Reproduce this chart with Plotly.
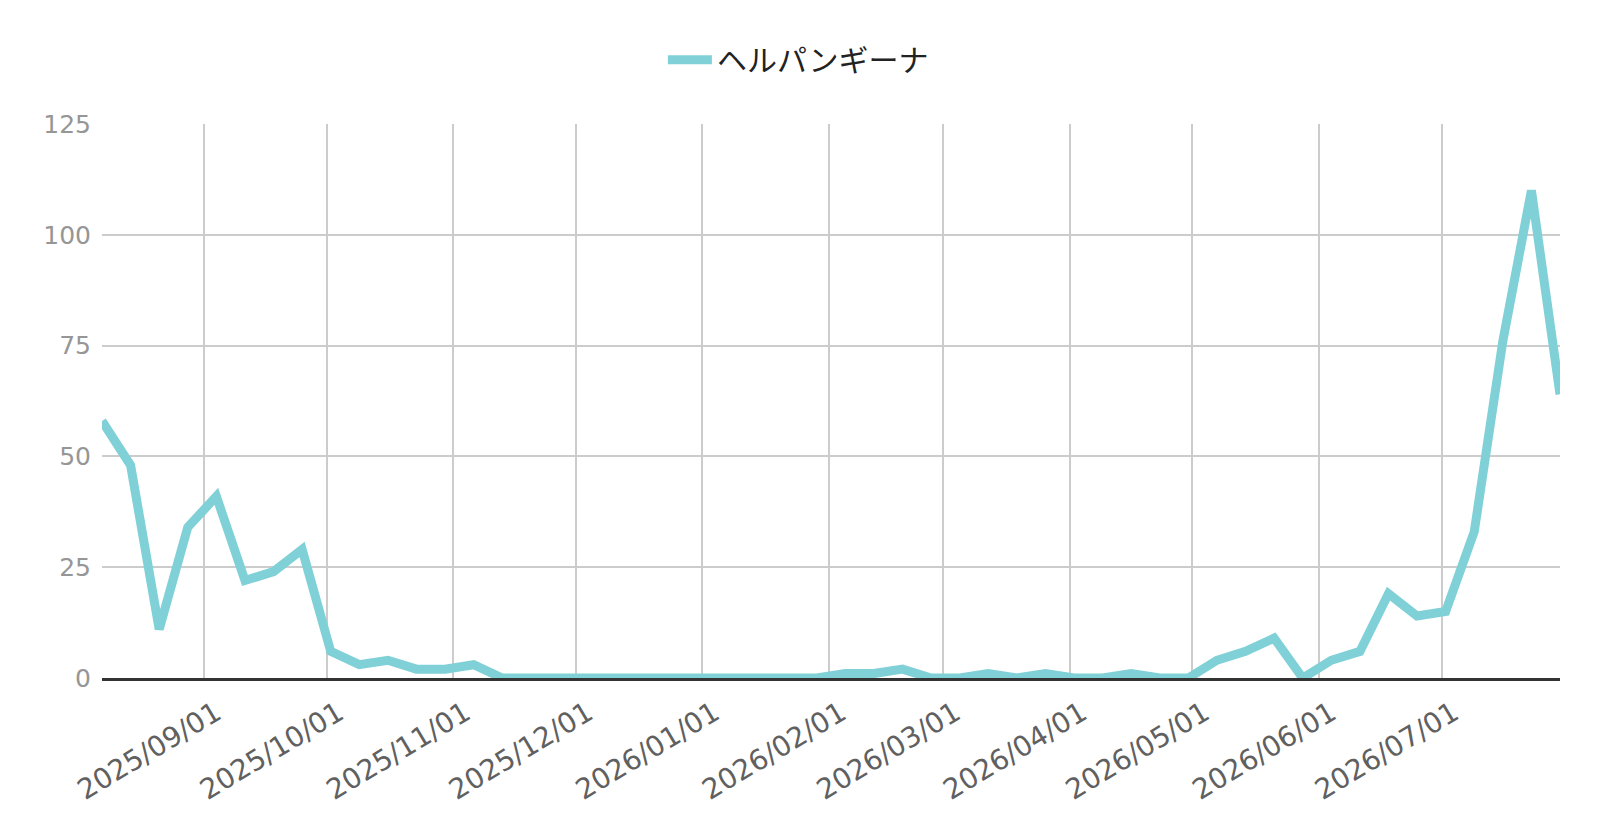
import plotly.graph_objects as go

# weekly counts
dates = [
    "2025-08-07", "2025-08-14", "2025-08-21", "2025-08-28",
    "2025-09-04", "2025-09-11", "2025-09-18", "2025-09-25",
    "2025-10-02", "2025-10-09", "2025-10-16", "2025-10-23", "2025-10-30",
    "2025-11-06", "2025-11-13", "2025-11-20", "2025-11-27",
    "2025-12-04", "2025-12-11", "2025-12-18", "2025-12-25",
    "2026-01-01", "2026-01-08", "2026-01-15", "2026-01-22", "2026-01-29",
    "2026-02-05", "2026-02-12", "2026-02-19", "2026-02-26",
    "2026-03-05", "2026-03-12", "2026-03-19", "2026-03-26",
    "2026-04-02", "2026-04-09", "2026-04-16", "2026-04-23", "2026-04-30",
    "2026-05-07", "2026-05-14", "2026-05-21", "2026-05-28",
    "2026-06-04", "2026-06-11", "2026-06-18", "2026-06-25",
    "2026-07-02", "2026-07-09", "2026-07-16", "2026-07-23", "2026-07-30",
]
counts = [
    58, 48, 11, 34,
    41, 22, 24, 29,
    6, 3, 4, 2, 2,
    3, 0, 0, 0,
    0, 0, 0, 0,
    0, 0, 0, 0, 0,
    1, 1, 2, 0,
    0, 1, 0, 1,
    0, 0, 1, 0, 0,
    4, 6, 9, 0,
    4, 6, 19, 14,
    15, 33, 76, 110, 64,
]
series_name = "ヘルパンギーナ"
y_ticks = [0, 25, 50, 75, 100, 125]

LINE_COLOR = "#80d1d7"
TICK_FONT = "DejaVu Sans, Arial, sans-serif"

fig = go.Figure()
fig.add_trace(go.Scatter(
    x=dates, y=counts, name=series_name, mode="lines",
    line=dict(color=LINE_COLOR, width=9),
))

fig.update_layout(
    width=1600, height=835,
    margin=dict(l=94, r=48, t=116, b=165),
    plot_bgcolor="white",
    paper_bgcolor="white",
    showlegend=True,
    legend=dict(
        orientation="h",
        xref="container", yref="container",
        x=0.494, xanchor="center",
        y=0.938, yanchor="middle",
        itemwidth=44,
        font=dict(family="Noto Sans CJK JP, sans-serif", size=30, color="#222222"),
    ),
    xaxis=dict(
        type="date",
        range=[dates[0], dates[-1]],
        tick0="2025-09-01", dtick="M1",
        tickformat="%Y/%m/%d",
        tickangle=-31,
        tickfont=dict(family=TICK_FONT, size=28, color="#606060"),
        ticklabelshift=12,
        ticklabelstandoff=5,
        showgrid=True, gridcolor="#cccccc", gridwidth=2,
        showline=True, linecolor="#333333", linewidth=2.5,
        layer="above traces",
        ticks="",
    ),
    yaxis=dict(
        range=[0, 125],
        tickvals=y_ticks,
        tickfont=dict(family=TICK_FONT, size=25, color="#969696"),
        showgrid=True, gridcolor="#cccccc", gridwidth=2,
        zeroline=False,
        ticklabelstandoff=10,
        ticks="",
    ),
)

fig.write_html("out.html")
